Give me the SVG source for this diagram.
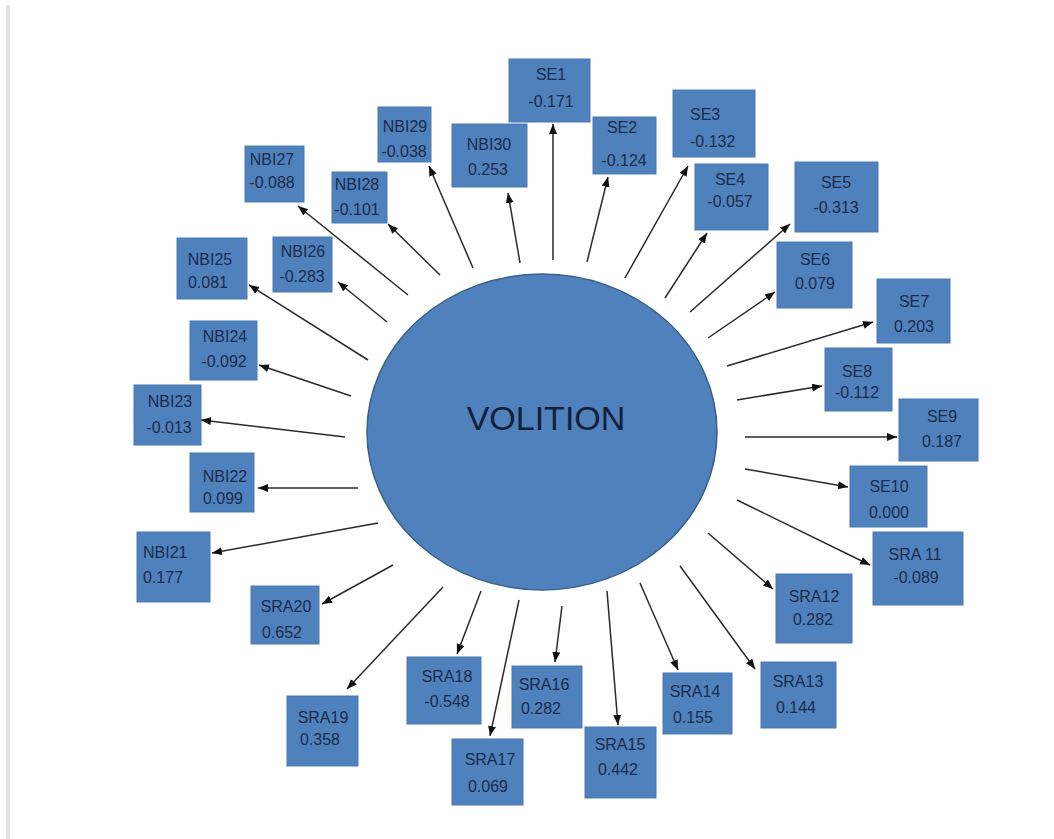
<svg xmlns="http://www.w3.org/2000/svg" width="1054" height="839" viewBox="0 0 1054 839">
<defs>
<marker id="ah" markerUnits="userSpaceOnUse" markerWidth="11" markerHeight="9" refX="10" refY="4" orient="auto">
<path d="M0,0 L10,4 L0,8 z" fill="#111"/>
</marker>
<style>
.b{fill:#4f81bd;stroke:#4a7ab3;stroke-width:1}
.t{font-family:"Liberation Sans",Arial,sans-serif;font-size:16px;fill:#1c2b4a;text-anchor:middle}
.s{text-anchor:start}
.c line{stroke:#2a2a2a;stroke-width:1.5;marker-end:url(#ah)}
</style>
</defs>
<rect width="1054" height="839" fill="#ffffff"/>
<rect x="6" y="5" width="4" height="834" fill="#e2e2e2"/>
<g id="volition">
<ellipse cx="542" cy="432" rx="175" ry="158" fill="#4f81bd" stroke="#3a5f8c" stroke-width="1.5"/>
<text x="546" y="430" font-family="Liberation Sans,Arial,sans-serif" font-size="34" fill="#13203a" text-anchor="middle">VOLITION</text>
</g>
<g class="c" id="connectors">
<line x1="553" y1="260" x2="553" y2="124"/>
<line x1="520" y1="263" x2="508" y2="193"/>
<line x1="473" y1="268" x2="429" y2="166"/>
<line x1="587" y1="262" x2="608" y2="177"/>
<line x1="625" y1="278" x2="688" y2="166"/>
<line x1="665" y1="298" x2="707" y2="233"/>
<line x1="690" y1="312" x2="790" y2="224"/>
<line x1="708" y1="338" x2="775" y2="292"/>
<line x1="727" y1="366" x2="873" y2="322"/>
<line x1="737" y1="400" x2="822" y2="386"/>
<line x1="745" y1="437" x2="897" y2="437"/>
<line x1="745" y1="469" x2="848" y2="487"/>
<line x1="737" y1="500" x2="870" y2="565"/>
<line x1="708" y1="533" x2="773" y2="589"/>
<line x1="680" y1="566" x2="755" y2="669"/>
<line x1="640" y1="583" x2="678" y2="670"/>
<line x1="607" y1="591" x2="618" y2="725"/>
<line x1="562" y1="606" x2="555" y2="662"/>
<line x1="519" y1="600" x2="490" y2="736"/>
<line x1="481" y1="591" x2="457" y2="654"/>
<line x1="443" y1="587" x2="347" y2="689"/>
<line x1="393" y1="565" x2="322" y2="604"/>
<line x1="378" y1="523" x2="212" y2="553"/>
<line x1="358" y1="488" x2="258" y2="488"/>
<line x1="345" y1="437" x2="201" y2="420"/>
<line x1="351" y1="396" x2="259" y2="365"/>
<line x1="368" y1="360" x2="249" y2="285"/>
<line x1="387" y1="322" x2="338" y2="282"/>
<line x1="408" y1="295" x2="298" y2="206"/>
<line x1="440" y1="275" x2="388" y2="224"/>
</g>
<g id="SE1"><rect class="b" x="509" y="59" width="81" height="63"/><text class="t" font-size="17" x="551" y="80">SE1</text><text class="t" font-size="17" x="551" y="107">-0.171</text></g>
<g id="SE2"><rect class="b" x="593" y="117" width="63" height="57"/><text class="t" font-size="14" x="622" y="133">SE2</text><text class="t" font-size="14" x="624" y="166">-0.124</text></g>
<g id="SE3"><rect class="b" x="673" y="90" width="82" height="67"/><text class="t s" x="690" y="120">SE3</text><text class="t s" x="690" y="147">-0.132</text></g>
<g id="SE4"><rect class="b" x="695" y="164" width="73" height="66"/><text class="t" font-size="15" x="730" y="185">SE4</text><text class="t" font-size="15" x="730" y="207">-0.057</text></g>
<g id="SE5"><rect class="b" x="795" y="162" width="83" height="70"/><text class="t" x="836" y="188">SE5</text><text class="t" x="836" y="213">-0.313</text></g>
<g id="SE6"><rect class="b" x="777" y="242" width="75" height="66"/><text class="t" x="815" y="265">SE6</text><text class="t" x="815" y="289">0.079</text></g>
<g id="SE7"><rect class="b" x="877" y="279" width="73" height="64"/><text class="t" x="914" y="307">SE7</text><text class="t" x="914" y="332">0.203</text></g>
<g id="SE8"><rect class="b" x="825" y="348" width="67" height="63"/><text class="t" font-size="15" x="857" y="377">SE8</text><text class="t" font-size="15" x="857" y="398">-0.112</text></g>
<g id="SE9"><rect class="b" x="899" y="399" width="79" height="62"/><text class="t" x="942" y="422">SE9</text><text class="t" x="942" y="447">0.187</text></g>
<g id="SE10"><rect class="b" x="850" y="466" width="77" height="61"/><text class="t" x="889" y="492">SE10</text><text class="t" x="889" y="518">0.000</text></g>
<g id="SRA11"><rect class="b" x="873" y="532" width="90" height="73"/><text class="t" x="915" y="560">SRA 11</text><text class="t" x="916" y="583">-0.089</text></g>
<g id="SRA12"><rect class="b" x="776" y="574" width="76" height="69"/><text class="t" font-size="15" x="814" y="602">SRA12</text><text class="t" font-size="15" x="813" y="625">0.282</text></g>
<g id="SRA13"><rect class="b" x="761" y="662" width="75" height="66"/><text class="t" font-size="15" x="798" y="687">SRA13</text><text class="t" font-size="15" x="796" y="713">0.144</text></g>
<g id="SRA14"><rect class="b" x="663" y="673" width="69" height="61"/><text class="t" font-size="14" x="695" y="697">SRA14</text><text class="t" font-size="15" x="693" y="723">0.155</text></g>
<g id="SRA15"><rect class="b" x="585" y="727" width="71" height="71"/><text class="t" font-size="14" x="620" y="750">SRA15</text><text class="t" font-size="15" x="618" y="775">0.442</text></g>
<g id="SRA16"><rect class="b" x="512" y="666" width="70" height="62"/><text class="t" font-size="15" x="544" y="690">SRA16</text><text class="t" font-size="16" x="541" y="714">0.282</text></g>
<g id="SRA17"><rect class="b" x="452" y="739" width="71" height="66"/><text class="t" font-size="15" x="490" y="765">SRA17</text><text class="t" font-size="16" x="488" y="792">0.069</text></g>
<g id="SRA18"><rect class="b" x="407" y="657" width="74" height="67"/><text class="t" font-size="15" x="447" y="682">SRA18</text><text class="t" font-size="16" x="447" y="707">-0.548</text></g>
<g id="SRA19"><rect class="b" x="287" y="696" width="71" height="70"/><text class="t" font-size="15" x="323" y="723">SRA19</text><text class="t" font-size="16" x="320" y="745">0.358</text></g>
<g id="SRA20"><rect class="b" x="251" y="586" width="68" height="58"/><text class="t" font-size="15" x="286" y="612">SRA20</text><text class="t" font-size="16" x="282" y="638">0.652</text></g>
<g id="NBI21"><rect class="b" x="137" y="532" width="73" height="70"/><text class="t s" x="143" y="558">NBI21</text><text class="t s" x="143" y="583">0.177</text></g>
<g id="NBI22"><rect class="b" x="190" y="453" width="64" height="59"/><text class="t" x="225" y="482">NBI22</text><text class="t" x="223" y="504">0.099</text></g>
<g id="NBI23"><rect class="b" x="134" y="385" width="67" height="60"/><text class="t" x="170" y="407">NBI23</text><text class="t" x="169" y="433">-0.013</text></g>
<g id="NBI24"><rect class="b" x="190" y="321" width="67" height="59"/><text class="t" x="225" y="342">NBI24</text><text class="t" x="224" y="367">-0.092</text></g>
<g id="NBI25"><rect class="b" x="177" y="238" width="70" height="61"/><text class="t" x="210" y="265">NBI25</text><text class="t" x="208" y="288">0.081</text></g>
<g id="NBI26"><rect class="b" x="273" y="237" width="59" height="55"/><text class="t" x="303" y="257">NBI26</text><text class="t" x="302" y="282">-0.283</text></g>
<g id="NBI27"><rect class="b" x="245" y="146" width="59" height="56"/><text class="t" x="272" y="165">NBI27</text><text class="t" x="272" y="188">-0.088</text></g>
<g id="NBI28"><rect class="b" x="332" y="172" width="55" height="51"/><text class="t" x="357" y="190">NBI28</text><text class="t" x="357" y="215">-0.101</text></g>
<g id="NBI29"><rect class="b" x="378" y="107" width="53" height="55"/><text class="t" x="405" y="132">NBI29</text><text class="t" x="404" y="157">-0.038</text></g>
<g id="NBI30"><rect class="b" x="452" y="124" width="75" height="63"/><text class="t" x="489" y="150">NBI30</text><text class="t" x="488" y="175">0.253</text></g>
</svg>
